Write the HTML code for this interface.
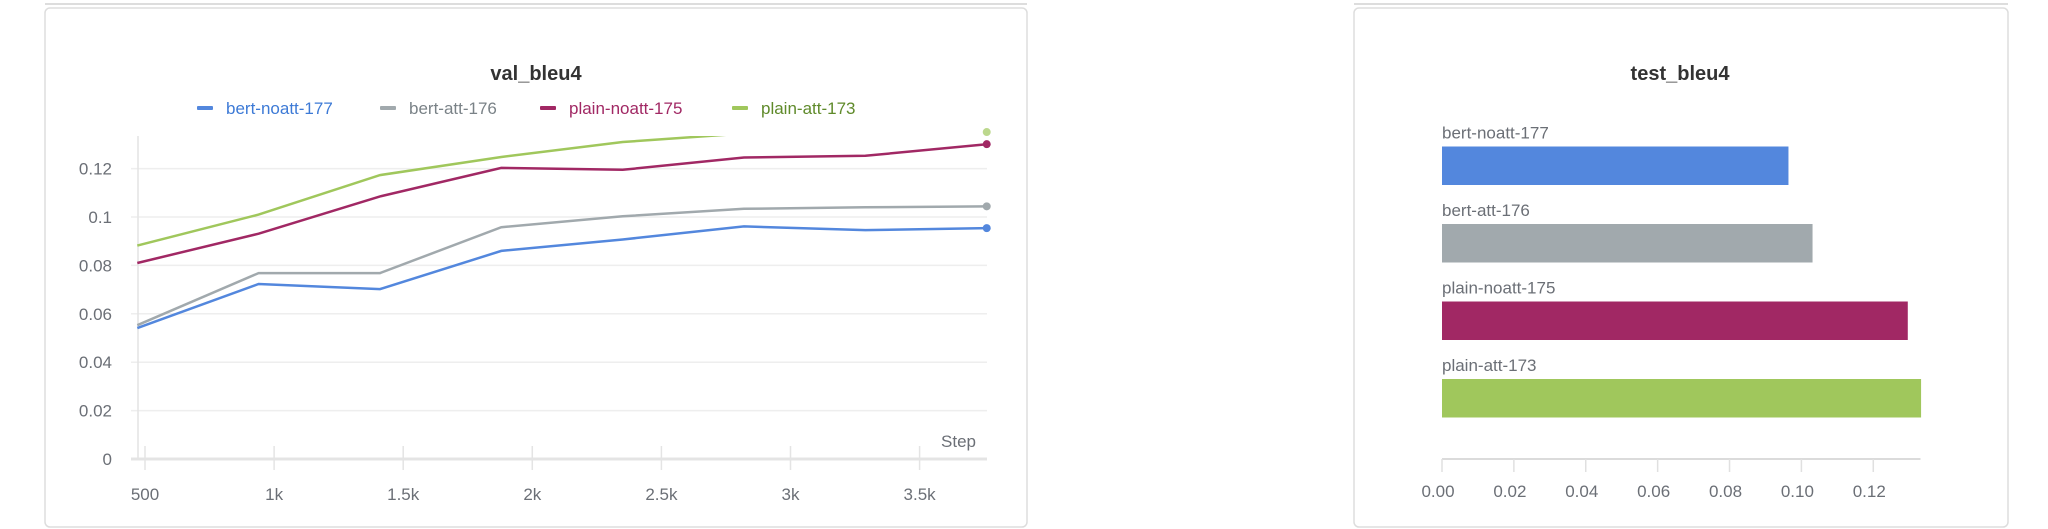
<!DOCTYPE html>
<html><head><meta charset="utf-8"><style>
html,body{margin:0;padding:0;background:#fff;width:2048px;height:529px;overflow:hidden}
svg{display:block;font-family:"Liberation Sans",sans-serif}
</style></head><body>
<svg id="svg" width="2048" height="529">
<line x1="45" y1="4" x2="1027" y2="4" stroke="#ddd" stroke-width="2"/>
<line x1="1354" y1="4" x2="2008" y2="4" stroke="#ddd" stroke-width="2"/>
<rect x="45" y="8" width="982" height="519" rx="5" fill="#fff" stroke="#ddd" stroke-width="1.5"/>
<rect x="1354" y="8" width="654" height="519" rx="5" fill="#fff" stroke="#ddd" stroke-width="1.5"/>
<text x="536" y="80" text-anchor="middle" font-size="20" font-weight="bold" fill="#333">val_bleu4</text>
<text x="1680" y="80" text-anchor="middle" font-size="20" font-weight="bold" fill="#333">test_bleu4</text>
<g id="line"></g><g id="bar"></g>
</svg>
<script>
const seriesNames=["bert-noatt-177","bert-att-176","plain-noatt-175","plain-att-173"];
const seriesColors=["#5387dd","#a1a9ad","#a12864","#a0c75c"];
const legendTextColors=["#3d7ad6","#7a8287","#a12864","#5f8a2a"];
const steps=[470,940,1410,1880,2350,2820,3290,3760];
const bertNoatt=[0.0541,0.0723,0.0702,0.0860,0.0907,0.0961,0.0946,0.0954];
const bertAtt=[0.0553,0.0768,0.0768,0.0958,0.1003,0.1034,0.1040,0.1044];
const plainNoatt=[0.0810,0.0931,0.1085,0.1203,0.1195,0.1246,0.1253,0.1301];
const plainAtt=[0.0882,0.1010,0.1173,0.1248,0.1310,0.1345,0.1345,0.1351];
const yTicks=[0,0.02,0.04,0.06,0.08,0.1,0.12];
const yTickLabels=["0","0.02","0.04","0.06","0.08","0.1","0.12"];
const xTicks=[500,1000,1500,2000,2500,3000,3500];
const xTickLabels=["500","1k","1.5k","2k","2.5k","3k","3.5k"];
const testValues=[0.0964,0.1031,0.1296,0.1333];
const barTicks=[0,0.02,0.04,0.06,0.08,0.10,0.12];
const barTickLabels=["0.00","0.02","0.04","0.06","0.08","0.10","0.12"];

const NS="http://www.w3.org/2000/svg";
function mk(p,t,a,txt){const e=document.createElementNS(NS,t);for(const k in a)e.setAttribute(k,a[k]);if(txt!==undefined)e.textContent=txt;p.appendChild(e);return e;}
const X=s=>145+(s-500)*0.2582;
const Y=v=>459-v*2420;
const L=document.getElementById('line');
const defs=mk(L,'defs',{});const cp=mk(defs,'clipPath',{id:'pc'});mk(cp,'rect',{x:130,y:136,width:870,height:330});
yTicks.forEach((v,i)=>{
 const g=mk(L,'line',{x1:131,x2:987,y1:Y(v),y2:Y(v),stroke:i==0?'#e4e4e4':'#eeeeee','stroke-width':i==0?3:1.5});
 
 
 const t=mk(L,'text',{x:112,y:Y(v)+6,'text-anchor':'end','font-size':17,fill:'#6b6f76'},yTickLabels[i]);
 
 
});
const ya=mk(L,'line',{x1:138,x2:138,y1:136,y2:460,stroke:'#e4e4e4','stroke-width':1.5});


xTicks.forEach((s,i)=>{
 const tk=mk(L,'line',{x1:X(s),x2:X(s),y1:446,y2:470,stroke:'#e4e4e4','stroke-width':1.5});
 
 
 const t=mk(L,'text',{x:X(s),y:500,'text-anchor':'middle','font-size':17,fill:'#6b6f76'},xTickLabels[i]);
 
 
});
const st=mk(L,'text',{x:976,y:447,'text-anchor':'end','font-size':17,fill:'#6b6f76'},'Step');


const allSeries=[bertNoatt,bertAtt,plainNoatt,plainAtt];
allSeries.forEach((vals,k)=>{
 const d=vals.map((v,i)=>(i?'L':'M')+X(steps[i]).toFixed(1)+','+Y(v).toFixed(1)).join(' ');
 const p=mk(L,'path',{d:d,fill:'none',stroke:seriesColors[k],'stroke-width':2.5,'clip-path':'url(#pc)'});
 
 
 const n=vals.length-1;
 const c=mk(L,'circle',{cx:X(steps[n]),cy:Y(vals[n]),r:4,fill:seriesColors[k],opacity:k==3?0.7:1});
 
 
});
const legX=[197,380,540,732];
seriesNames.forEach((n,k)=>{
 const r=mk(L,'rect',{x:legX[k],y:106,width:16,height:4,rx:1,fill:seriesColors[k]});
 
 
 const t=mk(L,'text',{x:legX[k]+29,y:114,'font-size':17,fill:legendTextColors[k]},n);
 
 
});
const B=document.getElementById('bar');
const BX=v=>1442+v*3594;
const barTop=[146.5,224,301.5,379];
const ba=mk(B,'line',{x1:1442,x2:1920.5,y1:459,y2:459,stroke:'#cfcfcf','stroke-width':1.5});


barTicks.forEach((v,i)=>{
 const tk=mk(B,'line',{x1:BX(v),x2:BX(v),y1:459,y2:472,stroke:'#e0e0e0','stroke-width':1.5});
 
 
 const t=mk(B,'text',{x:BX(v)-4,y:497,'text-anchor':'middle','font-size':17,fill:'#6b6f76'},barTickLabels[i]);
 
 
});
testValues.forEach((v,k)=>{
 const r=mk(B,'rect',{x:1442,y:barTop[k],width:BX(v)-1442,height:38.5,fill:seriesColors[k]});
 
 
 const t=mk(B,'text',{x:1442,y:barTop[k]-8,'font-size':17,fill:'#6b6f76'},seriesNames[k]);
 
 
});
</script>
</body></html>
